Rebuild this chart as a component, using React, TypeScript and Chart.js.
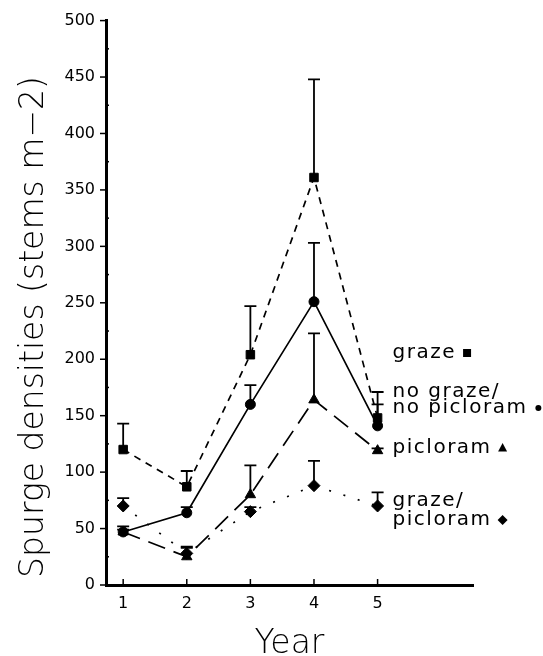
import React, { useEffect, useRef } from "react";
import { Chart, registerables } from "chart.js";

Chart.register(...registerables);

// ---- data ----
const years = [1, 2, 3, 4, 5];

const grazeMean = [120, 87, 204, 361, 148];
const grazeErr = [23, 14, 43, 87, 23];

const noGrazeMean = [47, 64, 160, 251, 141];
const noGrazeErr = [5, 5, 17, 52, 19];

const picloramMean = [47, 25, 80, 164, 119];
const picloramErr = [2, 9, 26, 59, 2];

const grazePicMean = [70, 28, 65, 88, 70];
const grazePicErr = [7, 5, 4, 22, 12];

const yMajorTicks = [0, 50, 100, 150, 200, 250, 300, 350, 400, 450, 500];
const yMinorTicks = [25, 75, 125, 175, 225, 275, 325, 375, 425, 475];

const yTitle = "Spurge densities (stems m\u22122)";
const xTitle = "Year";

const legendGraze = ["graze"];
const legendNoGraze = ["no graze/", "no picloram"];
const legendPicloram = ["picloram"];
const legendGrazePic = ["graze/", "picloram"];

const FONT = '"DejaVu Sans", "Liberation Sans", sans-serif';

type Series = {
  mean: number[];
  err: number[];
  dash: number[];
  style: string;
  radius: number;
};

const series: Series[] = [
  { mean: grazeMean, err: grazeErr, dash: [7, 6], style: "rect", radius: 6 },
  { mean: noGrazeMean, err: noGrazeErr, dash: [], style: "circle", radius: 5 },
  { mean: picloramMean, err: picloramErr, dash: [18, 9], style: "triangle", radius: 6 },
  { mean: grazePicMean, err: grazePicErr, dash: [2, 13], style: "rectRot", radius: 6 },
];

const legendItems = [
  { lines: legendGraze, marker: "rect", baselines: [358] },
  { lines: legendNoGraze, marker: "circle", baselines: [397, 413] },
  { lines: legendPicloram, marker: "triangle", baselines: [453] },
  { lines: legendGrazePic, marker: "rectRot", baselines: [506, 525] },
];

function drawMarker(ctx: CanvasRenderingContext2D, kind: string, cx: number, cy: number) {
  ctx.beginPath();
  if (kind === "rect") {
    ctx.rect(cx - 4, cy - 4, 8, 8);
  } else if (kind === "circle") {
    ctx.arc(cx, cy, 3, 0, Math.PI * 2);
  } else if (kind === "triangle") {
    ctx.moveTo(cx, cy - 5);
    ctx.lineTo(cx + 4.5, cy + 3.5);
    ctx.lineTo(cx - 4.5, cy + 3.5);
    ctx.closePath();
  } else {
    ctx.moveTo(cx, cy - 5);
    ctx.lineTo(cx + 5, cy);
    ctx.lineTo(cx, cy + 5);
    ctx.lineTo(cx - 5, cy);
    ctx.closePath();
  }
  ctx.fill();
}

const overlayPlugin = {
  id: "overlay",
  afterDatasetsDraw(chart: any) {
    const { ctx } = chart;
    const x = chart.scales.x;
    const y = chart.scales.y;
    ctx.save();
    ctx.strokeStyle = "#000";
    ctx.lineWidth = 1.8;
    ctx.setLineDash([]);
    series.forEach((s) => {
      s.mean.forEach((m, i) => {
        const e = s.err[i];
        if (!e) return;
        const px = x.getPixelForValue(years[i]);
        const y0 = y.getPixelForValue(m);
        const y1 = y.getPixelForValue(m + e);
        ctx.beginPath();
        ctx.moveTo(px, y0);
        ctx.lineTo(px, y1);
        ctx.moveTo(px - 6, y1);
        ctx.lineTo(px + 6, y1);
        ctx.stroke();
      });
    });
    ctx.restore();
  },
  afterDraw(chart: any) {
    const { ctx, chartArea } = chart;
    const x = chart.scales.x;
    const y = chart.scales.y;
    ctx.save();
    ctx.strokeStyle = "#000";
    ctx.fillStyle = "#000";
    ctx.lineWidth = 1.5;
    ctx.setLineDash([]);
    // x ticks pointing inward
    years.forEach((v) => {
      const px = x.getPixelForValue(v);
      ctx.beginPath();
      ctx.moveTo(px, chartArea.bottom);
      ctx.lineTo(px, chartArea.bottom - 6);
      ctx.stroke();
    });
    // y ticks
    yMajorTicks.forEach((v) => {
      const py = y.getPixelForValue(v);
      ctx.beginPath();
      ctx.moveTo(chartArea.left, py);
      ctx.lineTo(chartArea.left - 6, py);
      ctx.stroke();
    });
    yMinorTicks.forEach((v) => {
      const py = y.getPixelForValue(v);
      ctx.beginPath();
      ctx.moveTo(chartArea.left, py);
      ctx.lineTo(chartArea.left + 3, py);
      ctx.stroke();
    });

    // y title
    ctx.save();
    ctx.font = `300 33px ${FONT}`;
    ctx.textAlign = "center";
    ctx.textBaseline = "alphabetic";
    ctx.translate(43, 327);
    ctx.rotate(-Math.PI / 2);
    ctx.fillText(yTitle, 0, 0);
    ctx.restore();

    // x title
    ctx.font = `300 33px ${FONT}`;
    ctx.textAlign = "center";
    ctx.textBaseline = "alphabetic";
    ctx.fillText(xTitle, (chartArea.left + chartArea.right) / 2, 653);

    // legend labels
    ctx.font = `20px ${FONT}`;
    ctx.textAlign = "left";
    try {
      (ctx as any).letterSpacing = "1.5px";
    } catch (e) {}
    const lx = x.getPixelForValue(5) + 15;
    legendItems.forEach((item) => {
      let lastEnd = lx;
      item.lines.forEach((line, k) => {
        ctx.fillText(line, lx, item.baselines[k]);
        lastEnd = lx + ctx.measureText(line).width;
      });
      const last = item.baselines[item.baselines.length - 1];
      drawMarker(ctx, item.marker, lastEnd + 11, last - 5);
    });
    ctx.restore();
  },
};

export default function App() {
  const ref = useRef<HTMLCanvasElement | null>(null);

  useEffect(() => {
    if (!ref.current) return;
    const datasets = series.map((s) => ({
      data: s.mean.map((m, i) => ({ x: years[i], y: m })),
      borderColor: "#000",
      backgroundColor: "#000",
      borderWidth: 1.7,
      borderDash: s.dash,
      pointStyle: s.style,
      pointRadius: s.radius,
      pointBackgroundColor: "#000",
      pointBorderColor: "#000",
      pointBorderWidth: 1,
      fill: false,
      tension: 0,
    }));

    const chart = new Chart(ref.current, {
      type: "line",
      data: { datasets },
      plugins: [overlayPlugin],
      options: {
        responsive: false,
        animation: false,
        events: [],
        layout: { padding: { top: 17, right: 70, left: 0, bottom: 0 } },
        plugins: {
          legend: { display: false },
          tooltip: { enabled: false },
          title: { display: false },
        },
        scales: {
          x: {
            type: "linear",
            min: 0.73,
            max: 6.5,
            afterBuildTicks: (scale: any) => {
              scale.ticks = years.map((v) => ({ value: v }));
            },
            afterFit: (scale: any) => {
              scale.height = 71;
            },
            grid: { display: false, drawTicks: false },
            border: { display: true, color: "#000", width: 3 },
            ticks: {
              autoSkip: false,
              maxRotation: 0,
              padding: 9,
              color: "#000",
              font: { family: FONT, size: 16 },
              callback: (v: any) => String(v),
            },
          },
          y: {
            type: "linear",
            min: 0,
            max: 500,
            afterBuildTicks: (scale: any) => {
              scale.ticks = yMajorTicks.map((v) => ({ value: v }));
            },
            afterFit: (scale: any) => {
              scale.width = 106;
            },
            grid: { display: false, drawTicks: false },
            border: { display: true, color: "#000", width: 3 },
            ticks: {
              autoSkip: false,
              padding: 11,
              color: "#000",
              font: { family: FONT, size: 16 },
              callback: (v: any) => String(v),
            },
          },
        },
      },
    });
    return () => chart.destroy();
  }, []);

  return (
    <div style={{ position: "absolute", left: 0, top: 0, width: 543, height: 656, background: "#fff" }}>
      <canvas ref={ref} width={543} height={656} style={{ display: "block" }} />
    </div>
  );
}
